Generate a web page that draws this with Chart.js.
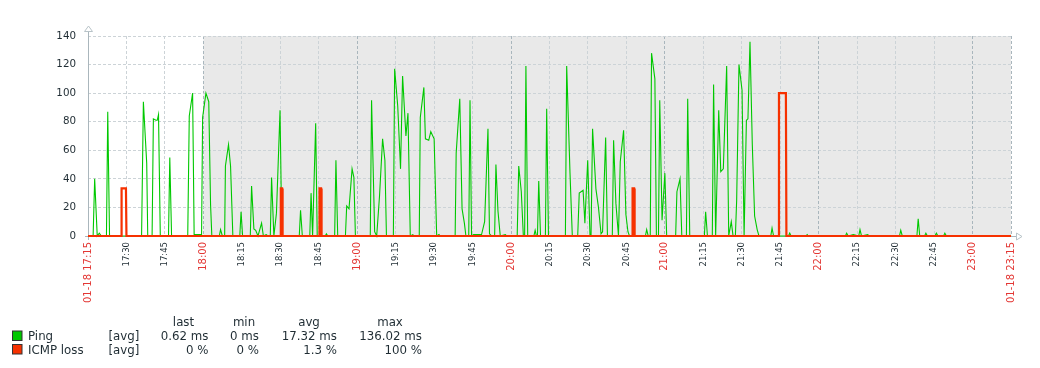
<!DOCTYPE html>
<html lang="en">
<head>
<meta charset="UTF-8">
<title>Ping / ICMP loss</title>
<script src="https://cdn.jsdelivr.net/npm/chart.js"></script>
<style>
  body { margin: 0; background: #fff; }
  canvas { display: block; }
</style>
</head>
<body>
<canvas id="graph" width="1040" height="368"></canvas>
<script>
// x values are minutes since 01-18 17:15
const tickLabels = ['01-18 17:15', '17:30', '17:45', '18:00', '18:15', '18:30', '18:45', '19:00',
    '19:15', '19:30', '19:45', '20:00', '20:15', '20:30', '20:45', '21:00', '21:15', '21:30',
    '21:45', '22:00', '22:15', '22:30', '22:45', '23:00', '01-18 23:15'];
const shadeFrom = 45; // 18:00, non-working time

const pingTimes = [
    0, 2, 2.6, 3.6, 4.4, 5.2,
    7.2, 7.7, 8.4,
    20.9, 21.6, 22.9, 23.3,
    25, 25.5, 26.5, 27, 27.5, 28.2,
    31.4, 31.9, 32.6,
    38.9, 39.5, 40.8, 41.4, 44.3,
    44.7, 46, 47.1, 47.8, 48.3,
    51.2, 51.7, 52.4,
    53.3, 53.6, 54.8, 55.6, 56.5,
    59.2, 59.7, 60.3,
    63.3, 63.8, 64.7, 65.4, 66.3, 67.7, 68.4, 69.5, 70.2,
    71.1, 71.6, 72.5, 73.5, 74.9, 75.6,
    82.4, 82.9, 83.6,
    86.5, 87, 87.6, 88.8, 89.4,
    92.5, 93, 93.5,
    96.2, 96.7, 97.4,
    100.4, 100.9, 101.8, 103, 103.7, 104.3,
    110.1, 110.6, 111.8, 112.6,
    113.7, 114.9, 115.8, 116.4,
    119.1, 119.6, 120.8, 121.9, 122.7, 124, 124.8, 125.7, 126.7, 127.2,
    129.2, 129.6, 131, 131.6, 132.9, 133.7, 135, 136, 136.9, 137.4,
    143.2, 143.6, 145, 145.9, 146.8, 147.4,
    148.5, 149, 149.6, 150.4, 153.5,
    154.7, 156, 156.6, 157.4,
    158.6, 159.1, 159.9, 160.8, 162.8, 163.3,
    167.4, 168, 169, 169.8, 170.3, 170.8, 171.5,
    173.9, 174.4, 174.9, 175.3, 175.8, 176.5,
    178.4, 178.9, 179.6,
    186.2, 186.7, 188, 188.9,
    191, 191.6, 193.1, 193.8, 194.9, 195.8,
    196.2, 196.8, 198.1, 199.1, 200.1, 200.7, 201.9, 202.6,
    204.5, 205, 205.9, 206.9,
    207.6, 208.9, 209.8, 210.6, 211.2,
    217.4, 217.9, 218.5,
    219.3, 219.8, 221.1, 221.7,
    222.5, 223, 223.9, 225, 225.7,
    229.2, 229.7, 230.9, 231.6,
    233.4, 233.9, 234.7,
    240.4, 240.9, 241.6,
    243.5, 244, 244.8,
    246, 246.8, 247.8, 249.1, 249.9,
    250.9, 251.6,
    252.5, 253, 253.9, 255.1, 255.9,
    256.8, 257.4, 258.2, 259.1, 260, 261, 261.7,
    266.3, 266.8, 267.4,
    273.2, 273.7, 274.2,
    280, 280.5, 281,
    295.4, 295.9, 296.5, 298.5, 300.6, 301.1, 301.7, 304.1, 304.7,
    316.5, 317, 317.6,
    323.3, 323.8, 324.4,
    326.3, 326.8, 327.4, 330.3, 330.9, 331.5, 333.7, 334.2, 334.8,
    359.5, 360
];
const pingValues = [
    0, 0, 40, 0, 2, 0,
    0, 87, 0,
    0, 94, 51, 0,
    0, 82, 81, 81, 85, 0,
    0, 55, 0,
    0, 84, 100, 1, 1,
    83, 100, 94, 22, 0,
    0, 4.5, 0,
    0, 49, 64, 49, 0,
    0, 17, 0,
    0, 35, 5, 4, 0, 9, 0, 1, 0,
    0, 41, 0, 16, 88, 0,
    0, 18, 0,
    0, 30, 0, 79, 0,
    0, 1.5, 0,
    0, 53, 0,
    0, 21, 19, 47, 41, 0,
    0, 95, 3, 0,
    28, 68, 53, 0,
    0, 117, 91, 47, 112, 70, 86, 0, 1, 0,
    0, 83, 104, 68, 67, 73, 68, 0, 1, 0,
    0, 58, 96, 19, 9, 0,
    0, 95, 0, 1, 1,
    10, 75, 1.5, 0,
    0, 50, 17.5, 0, 1, 0,
    0, 49, 31, 0, 0, 119, 0,
    0, 4, 0, 0, 38.5, 0,
    0, 89, 0,
    0, 119, 44, 0,
    0, 30, 32, 9, 53, 0,
    0, 75, 33, 20, 1.5, 3, 69, 0,
    0, 67, 23, 0,
    52, 74, 15, 3, 0,
    0, 4.5, 0,
    0, 128, 110, 0,
    0, 95, 11, 44, 0,
    0, 31, 40, 0,
    0, 96, 0,
    0, 17, 0,
    0, 106, 0,
    88, 45, 47, 119, 0,
    10, 0,
    0, 25, 120, 102, 0,
    81, 82, 136, 64, 14, 4.5, 0,
    0, 5.5, 0,
    0, 2, 0,
    0, 1, 0,
    0, 2, 0, 1, 0, 4.5, 0, 1, 0,
    0, 4, 0,
    0, 12, 0,
    0, 2, 0, 0, 2, 0, 0, 2, 0,
    0, 0.62
];

const lossTimes = [0, 12.9, 13.1, 14.8, 15, 75, 75.2, 75.7, 75.9, 90.1, 90.3, 90.9, 91.1,
    212.2, 212.4, 213, 213.2, 269.3, 269.5, 272.2, 272.4, 360];
const lossValues = [0, 0, 33.3, 33.3, 0, 0, 33.3, 33.3, 0, 0, 33.3, 33.3, 0,
    0, 33.3, 33.3, 0, 0, 100, 100, 0, 0];

const legendHeaders = ['last', 'min', 'avg', 'max'];
const legendNames = ['Ping', 'ICMP loss'];
const legendFunc = '[avg]';
const pingStats = ['0.62 ms', '0 ms', '17.32 ms', '136.02 ms'];
const lossStats = ['0 %', '0 %', '1.3 %', '100 %'];

const pingColor = '#00c800';
const lossColor = '#f63100';
const textColor = '#1f2c33';

function isRed(v) {
    const l = tickLabels[Math.round(v / 15)] || '';
    return l.endsWith(':00') || l.startsWith('01-18');
}
function tickRed(c) {
    return !!(c && c.tick && isRed(c.tick.value));
}

const zabbixGraph = {
    id: 'zabbixGraph',
    beforeDraw(chart) {
        const {ctx, chartArea: a, scales: {x}} = chart;
        const x0 = x.getPixelForValue(shadeFrom);
        ctx.save();
        ctx.fillStyle = '#e9e9e9';
        ctx.fillRect(x0, a.top, a.right - x0, a.bottom - a.top);
        ctx.restore();
    },
    beforeDatasetsDraw(chart) {
        const {ctx, chartArea: a} = chart;
        ctx.save();
        ctx.strokeStyle = '#aab6bc';
        ctx.lineWidth = 1;
        ctx.beginPath();
        ctx.moveTo(a.left + 0.5, a.top - 6);
        ctx.lineTo(a.left + 0.5, a.bottom + 4);
        ctx.moveTo(a.left - 3, a.bottom + 0.5);
        ctx.lineTo(a.right + 5, a.bottom + 0.5);
        ctx.stroke();
        // arrows
        ctx.strokeStyle = '#b8c3c8';
        ctx.fillStyle = '#fff';
        ctx.beginPath();
        ctx.moveTo(a.left - 3.5, a.top - 4.5);
        ctx.lineTo(a.left + 4.5, a.top - 4.5);
        ctx.lineTo(a.left + 0.5, a.top - 10);
        ctx.closePath();
        ctx.fill();
        ctx.stroke();
        ctx.beginPath();
        ctx.moveTo(a.right + 5.5, a.bottom - 3);
        ctx.lineTo(a.right + 5.5, a.bottom + 4);
        ctx.lineTo(a.right + 11, a.bottom + 0.5);
        ctx.closePath();
        ctx.fill();
        ctx.stroke();
        ctx.restore();
    },
    afterDraw(chart) {
        const ctx = chart.ctx;
        const centers = [183.5, 244, 309, 390];
        const rights = [208.5, 259, 337, 422];
        const rows = [340, 353.5];
        ctx.save();
        ctx.font = '11.8px "DejaVu Sans"';
        ctx.fillStyle = textColor;
        ctx.textBaseline = 'alphabetic';
        ctx.textAlign = 'center';
        legendHeaders.forEach((h, i) => ctx.fillText(h, centers[i], 325.5));
        [pingStats, lossStats].forEach((stats, r) => {
            ctx.fillStyle = [pingColor, lossColor][r];
            ctx.fillRect(12.5, rows[r] - 9, 9.5, 9.5);
            ctx.strokeStyle = '#333';
            ctx.lineWidth = 1;
            ctx.strokeRect(12.5, rows[r] - 9, 9.5, 9.5);
            ctx.fillStyle = textColor;
            ctx.textAlign = 'left';
            ctx.fillText(legendNames[r], 28, rows[r]);
            ctx.fillText(legendFunc, 108.5, rows[r]);
            ctx.textAlign = 'right';
            stats.forEach((s, i) => ctx.fillText(s, rights[i], rows[r]));
        });
        ctx.restore();
    }
};

new Chart(document.getElementById('graph'), {
    type: 'line',
    data: {
        datasets: [{
            label: legendNames[1],
            data: lossTimes.map((t, i) => ({x: t, y: lossValues[i]})),
            borderColor: lossColor,
            borderWidth: 2.2,
            clip: false,
            order: 0
        }, {
            label: legendNames[0],
            data: pingTimes.map((t, i) => ({x: t, y: pingValues[i]})),
            borderColor: pingColor,
            borderWidth: 1.1,
            clip: false,
            order: 1
        }]
    },
    options: {
        responsive: false,
        animation: false,
        layout: {padding: {left: 0, right: 29, top: 36, bottom: 62}},
        elements: {point: {radius: 0}, line: {tension: 0}},
        plugins: {legend: {display: false}, tooltip: {enabled: false}},
        scales: {
            x: {
                type: 'linear',
                min: 0,
                max: 360,
                afterFit(scale) { scale.height = 70; },
                border: {display: false, dash: [3, 2]},
                grid: {
                    drawTicks: false,
                    color: c => tickRed(c) ? '#a9b6bd' : '#ccd3d7'
                },
                ticks: {
                    stepSize: 15,
                    autoSkip: false,
                    maxRotation: 90,
                    minRotation: 90,
                    padding: 6,
                    callback: v => tickLabels[Math.round(v / 15)],
                    color: c => tickRed(c) ? '#e33734' : textColor,
                    font: c => ({family: 'DejaVu Sans', size: tickRed(c) ? 10 : 8.5})
                }
            },
            y: {
                min: 0,
                max: 140,
                afterFit(scale) { scale.width = 88; },
                border: {display: false, dash: [3, 2]},
                grid: {drawTicks: false, color: '#ccd3d7'},
                ticks: {
                    stepSize: 20,
                    padding: 12,
                    color: textColor,
                    font: {family: 'DejaVu Sans', size: 10.3}
                }
            }
        }
    },
    plugins: [zabbixGraph]
});
</script>
</body>
</html>
